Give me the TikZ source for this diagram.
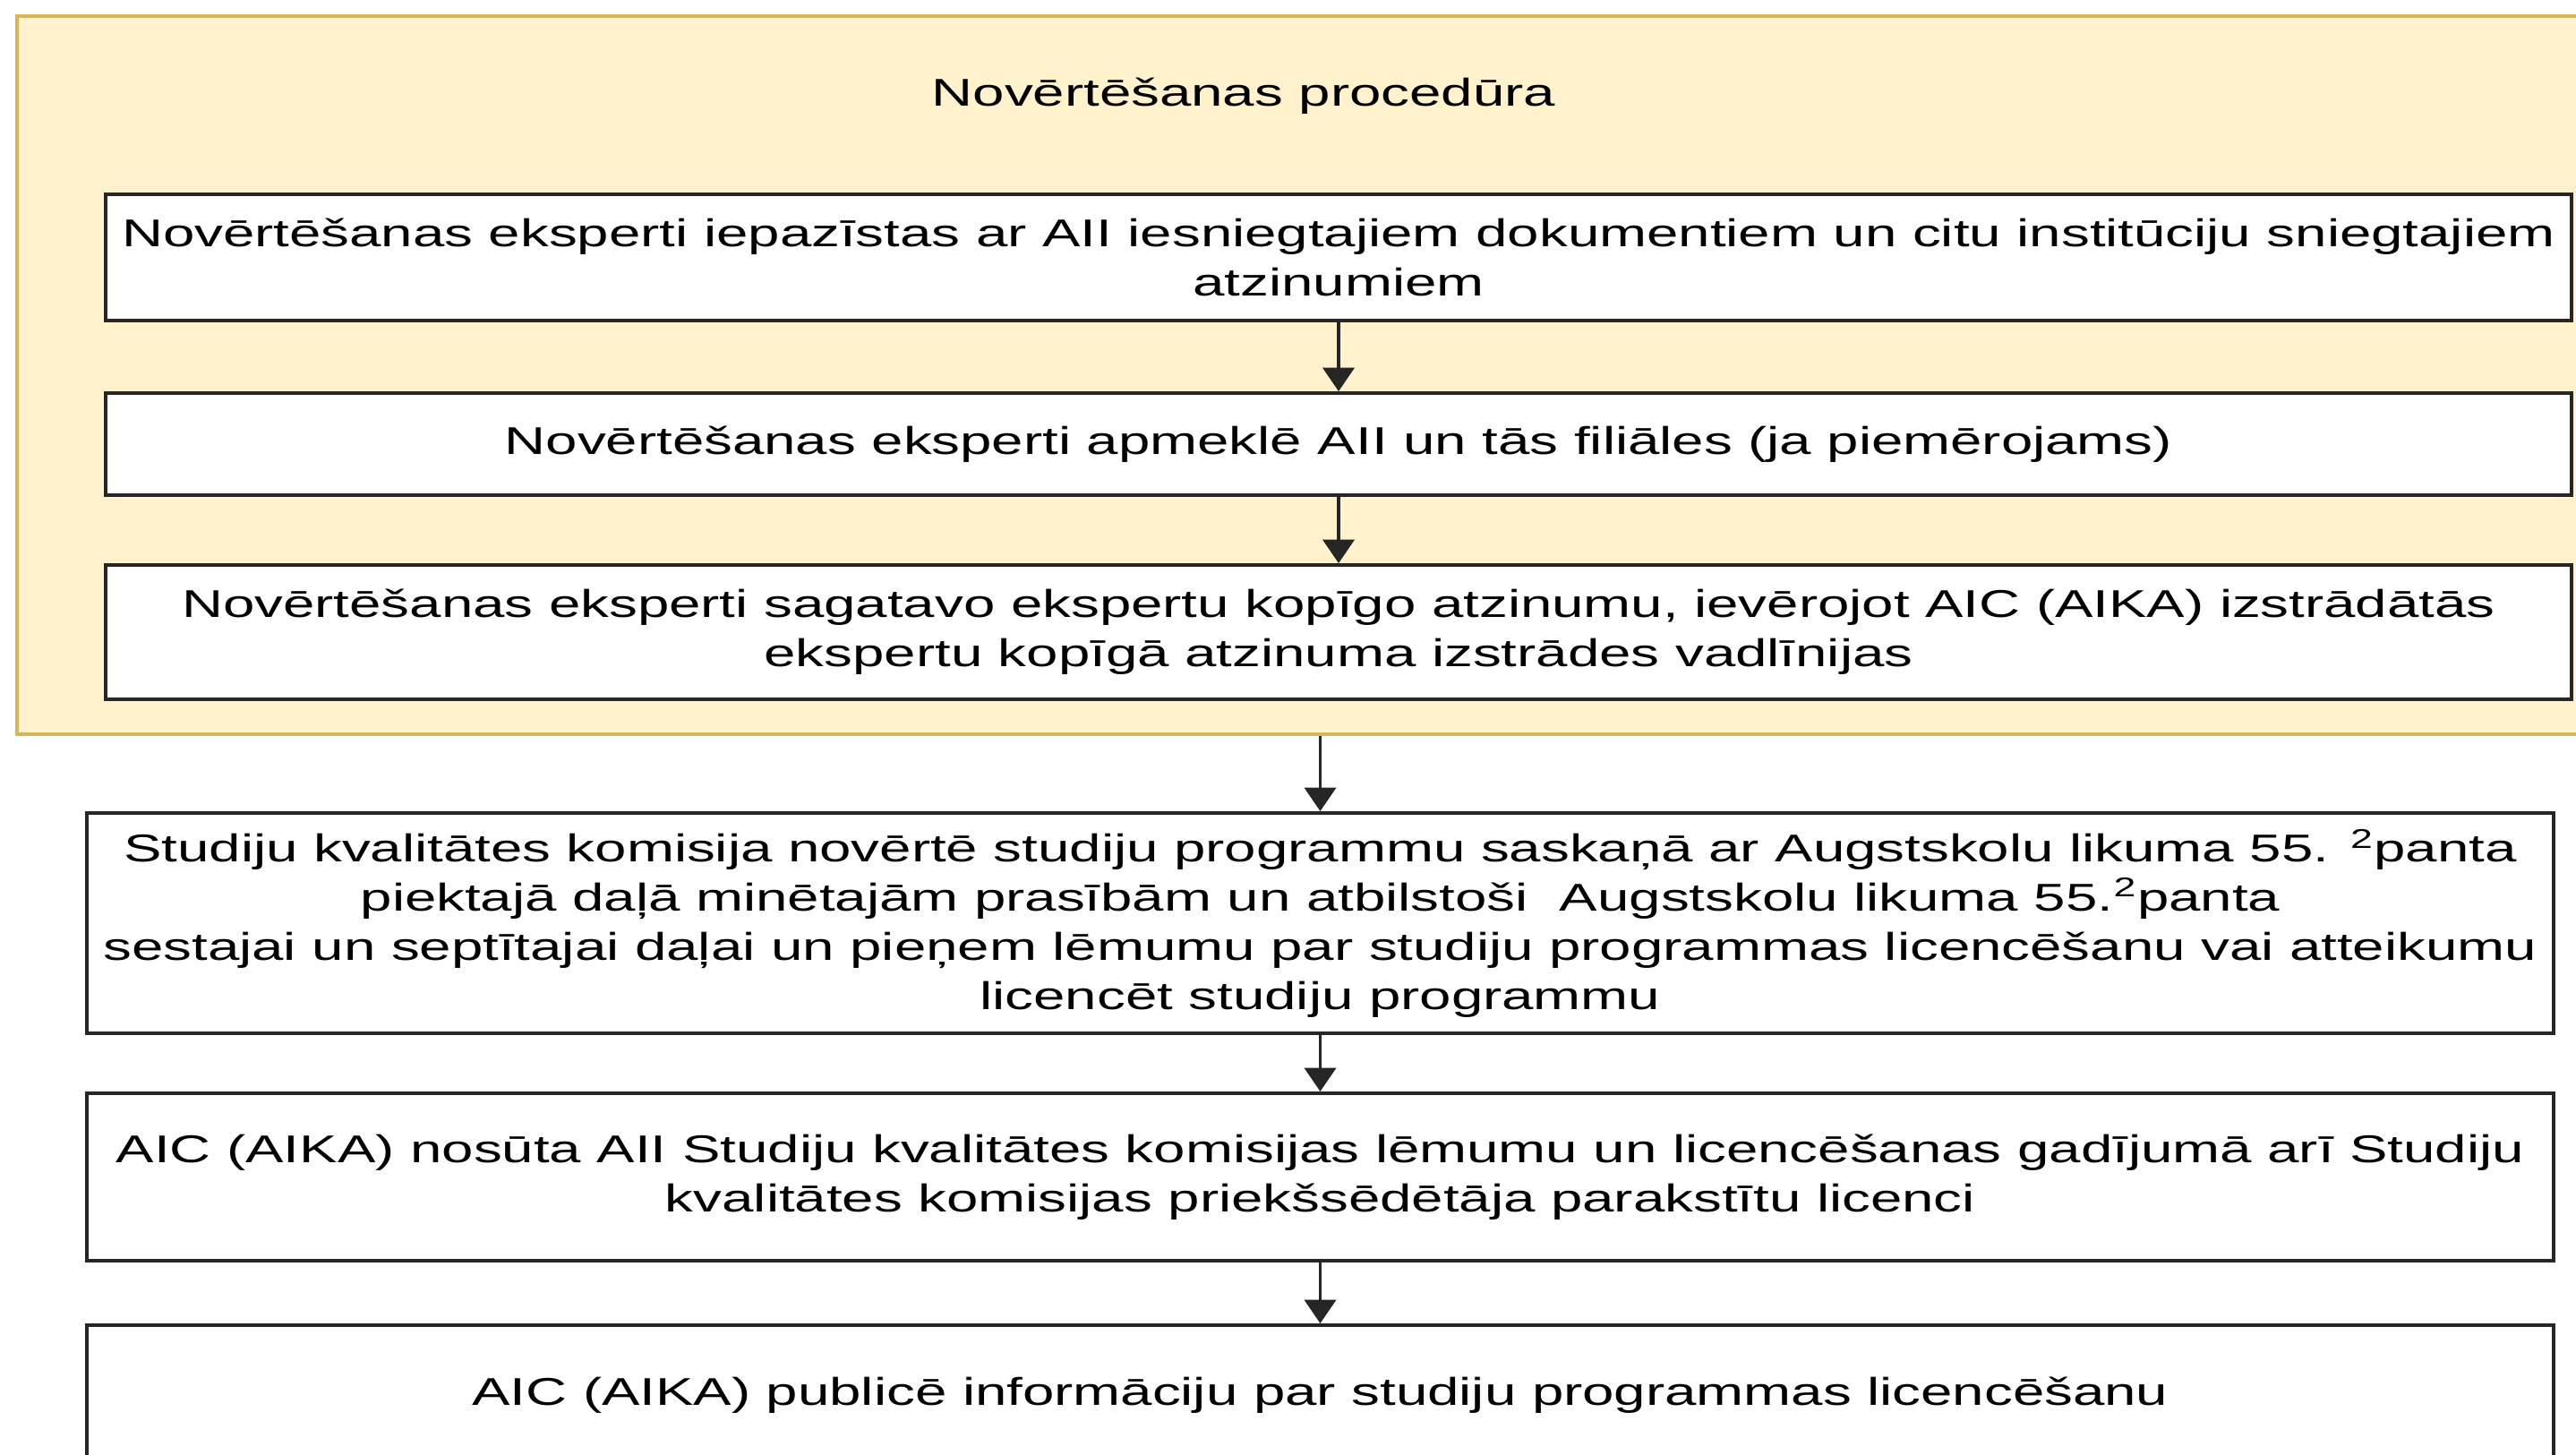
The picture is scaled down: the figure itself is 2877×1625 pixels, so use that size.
\documentclass[tikz,border=0pt]{standalone}
\usepackage{fontspec}
\setmainfont{Liberation Sans}[FakeStretch=1.47]
\usetikzlibrary{arrows.meta}
\definecolor{panelfill}{HTML}{FFF2CC}
\definecolor{paneldraw}{HTML}{D6B656}

\begin{document}
\begin{tikzpicture}[x=0.01cm,y=-0.01cm,->,>={Triangle[length=7.5pt,width=10pt]},
    stepbox/.style={draw=black!85,line width=1.1pt,fill=white,align=center,inner sep=0pt,
      font=\fontsize{12.3}{15.6}\selectfont},
    upperbox/.style={stepbox,minimum width=27.52cm},
    lowerbox/.style={stepbox,minimum width=27.53cm},
    panelbox/.style={draw=paneldraw,fill=panelfill,line width=1.1pt,inner sep=0pt,
      minimum width=28.7cm,minimum height=8.02cm}]
  \useasboundingbox (0,0) rectangle (2877,1625);
  % procedure panel
  \node[panelbox] (panel) at (1455,419) {};
  \node[font=\fontsize{12.3}{15.6}\selectfont] (title) at (1389,107) {Novērtēšanas procedūra};
  \node[upperbox,minimum height=1.41cm] (exp1) at (1495,287.5)
    {Novērtēšanas eksperti iepazīstas ar AII iesniegtajiem dokumentiem un citu institūciju sniegtajiem\\ atzinumiem};
  \node[upperbox,minimum height=1.14cm] (exp2) at (1495,496)
    {Novērtēšanas eksperti apmeklē AII un tās filiāles (ja piemērojams)};
  \node[upperbox,minimum height=1.50cm] (exp3) at (1495,706)
    {Novērtēšanas eksperti sagatavo ekspertu kopīgo atzinumu, ievērojot AIC (AIKA) izstrādātās\\ ekspertu kopīgā atzinuma izstrādes vadlīnijas};
  % after the panel
  \node[lowerbox,minimum height=2.46cm] (lic1) at (1474.5,1031)
    {Studiju kvalitātes komisija novērtē studiju programmu saskaņā ar Augstskolu likuma 55. \textsuperscript{2}panta\\
     piektajā daļā minētajām prasībām un atbilstoši\ \ Augstskolu likuma 55.\textsuperscript{2}panta\\
     sestajai un septītajai daļai un pieņem lēmumu par studiju programmas licencēšanu vai atteikumu\\
     licencēt studiju programmu};
  \node[lowerbox,minimum height=1.87cm] (lic2) at (1474.5,1314.5)
    {AIC (AIKA) nosūta AII Studiju kvalitātes komisijas lēmumu un licencēšanas gadījumā arī Studiju\\
     kvalitātes komisijas priekšsēdētāja parakstītu licenci};
  \node[lowerbox,minimum height=1.56cm] (lic3) at (1474.5,1558)
    {AIC (AIKA) publicē informāciju par studiju programmas licencēšanu};
  \draw[black!85,line width=1pt] (exp1) -- (exp2);
  \draw[black!85,line width=1pt] (exp2) -- (exp3);
  \draw[black!85,line width=1pt] (panel.south -| lic1.north) -- (lic1.north);
  \draw[black!85,line width=1pt] (lic1) -- (lic2);
  \draw[black!85,line width=1pt] (lic2) -- (lic3);
\end{tikzpicture}
\end{document}
